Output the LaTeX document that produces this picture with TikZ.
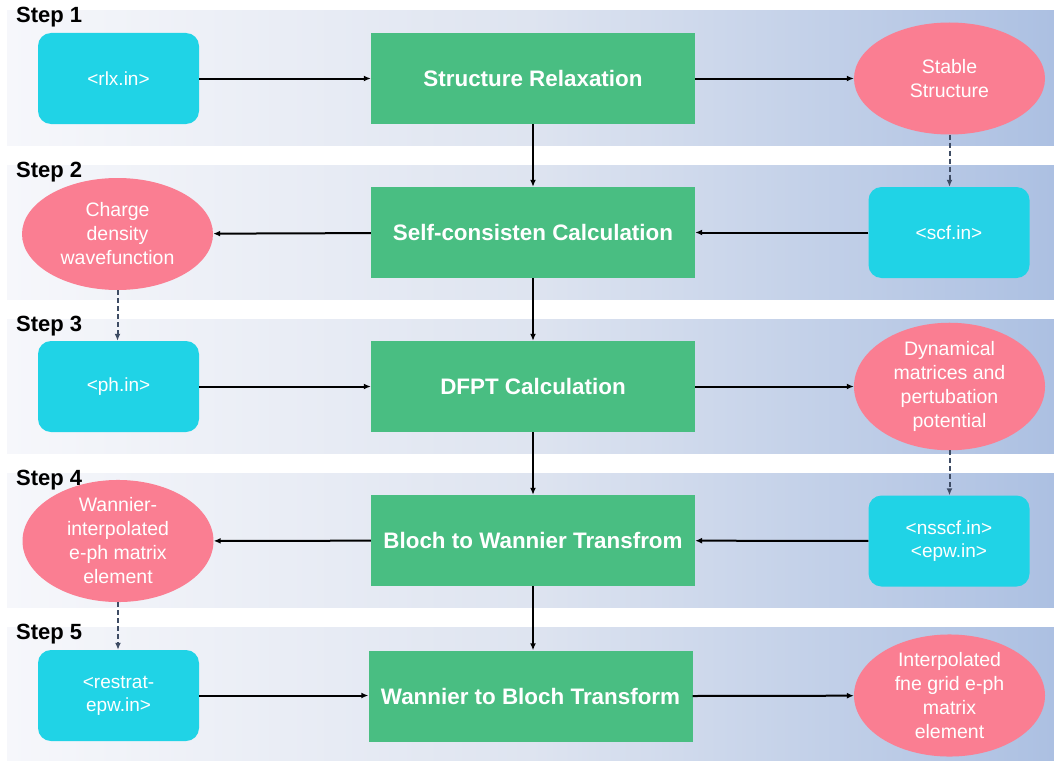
\documentclass[tikz,border=0pt]{standalone}
\usepackage{fontspec}
\setmainfont{Liberation Sans}
\usetikzlibrary{shapes.geometric,arrows.meta}

\definecolor{inputCyan}{RGB}{32,211,230}
\definecolor{calcGreen}{RGB}{73,190,130}
\definecolor{outPink}{RGB}{250,126,146}
\definecolor{bandLeft}{RGB}{246,247,251}
\definecolor{bandMid}{RGB}{222,228,240}
\definecolor{bandRight}{RGB}{172,192,226}
\definecolor{feedGray}{RGB}{62,76,100}

\tikzset{
    stepLabel/.style={font=\bfseries\fontsize{22}{26}\selectfont, inner sep=0pt},
    inFile/.style={fill=inputCyan, rounded corners=13pt, minimum width=161pt, minimum height=91pt,
        inner sep=0pt, text=white, align=center, font=\fontsize{19}{23}\selectfont},
    calcStep/.style={fill=calcGreen, minimum width=324pt, minimum height=91pt, inner sep=0pt,
        text=white, font=\bfseries\fontsize{22.4}{26}\selectfont},
    outData/.style={ellipse, fill=outPink, minimum width=191pt, minimum height=112pt, inner sep=0pt,
        text=white, align=center, font=\fontsize{19.5}{24}\selectfont},
    flow/.style={-{Latex[length=7pt,width=6pt]}, line width=2pt, black},
    feed/.style={-{Latex[length=7pt,width=6pt]}, line width=2pt, feedGray, dash pattern=on 5pt off 3pt}
}

\begin{document}
\begin{tikzpicture}[x=1pt,y=-1pt]
    \useasboundingbox (0,0) rectangle (1054,760);

    \foreach \i in {0,...,4}
        \fill[left color=bandLeft, right color=bandRight, middle color=bandMid]
            (7,{11+154*\i}) rectangle (1054,{145+154*\i});
    \foreach \i in {1,...,5}
        \node[stepLabel, anchor=base west] (step\i) at (16,{23+154*(\i-1)}) {Step \i};

    \node[inFile] (rlxIn) at (118.5,78.5) {<rlx.in>};
    \node[calcStep] (structRelax) at (533,78.5) {Structure Relaxation};
    \node[outData] (stableStruct) at (949.5,78.5) {Stable\\Structure};

    \node[inFile] (scfIn) at (949,232.5) {<scf.in>};
    \node[calcStep] (scfCalc) at (533,232.5) {Self-consisten Calculation};
    \node[outData] (chargeDens) at (117.5,234) {Charge\\density\\wavefunction};

    \node[inFile] (phIn) at (118.5,386.5) {<ph.in>};
    \node[calcStep] (dfptCalc) at (533,386.5) {DFPT Calculation};
    \node[outData] (dynMat) at (949.5,386.5) {Dynamical\\matrices and\\pertubation\\potential};

    \node[inFile] (nsscfIn) at (949,541) {<nsscf.in>\\<epw.in>};
    \node[calcStep] (blochWannier) at (533,540.5) {Bloch to Wannier Transfrom};
    \node[outData] (wannierEl) at (118,541) {Wannier-\\interpolated\\e-ph matrix\\element};

    \node[inFile] (restratIn) at (118.5,695.5) {<restrat-\\epw.in>};
    \node[calcStep] (wannierBloch) at (530.5,696) {Wannier to Bloch Transform};
    \node[outData] (interpEl) at (949.5,695.5) {Interpolated\\fne grid e-ph\\matrix\\element};

    \draw[flow] (rlxIn) -- (structRelax);
    \draw[flow] (structRelax) -- (stableStruct);
    \draw[flow] (scfIn) -- (scfCalc);
    \draw[flow] (scfCalc) -- (chargeDens);
    \draw[flow] (phIn) -- (dfptCalc);
    \draw[flow] (dfptCalc) -- (dynMat);
    \draw[flow] (nsscfIn) -- (blochWannier);
    \draw[flow] (blochWannier) -- (wannierEl);
    \draw[flow] (restratIn.east) -- (restratIn.east -| wannierBloch.west);
    \draw[flow] (wannierBloch.east) -- (interpEl);

    \draw[flow] (structRelax) -- (scfCalc);
    \draw[flow] (scfCalc) -- (dfptCalc);
    \draw[flow] (dfptCalc) -- (blochWannier);
    \draw[flow] (blochWannier.south) -- (blochWannier.south |- wannierBloch.north);

    \draw[feed] (stableStruct.south) -- (stableStruct.south |- scfIn.north);
    \draw[feed] (chargeDens.south) -- (chargeDens.south |- phIn.north);
    \draw[feed] (dynMat.south) -- (dynMat.south |- nsscfIn.north);
    \draw[feed] (wannierEl.south) -- (wannierEl.south |- restratIn.north);
\end{tikzpicture}
\end{document}
